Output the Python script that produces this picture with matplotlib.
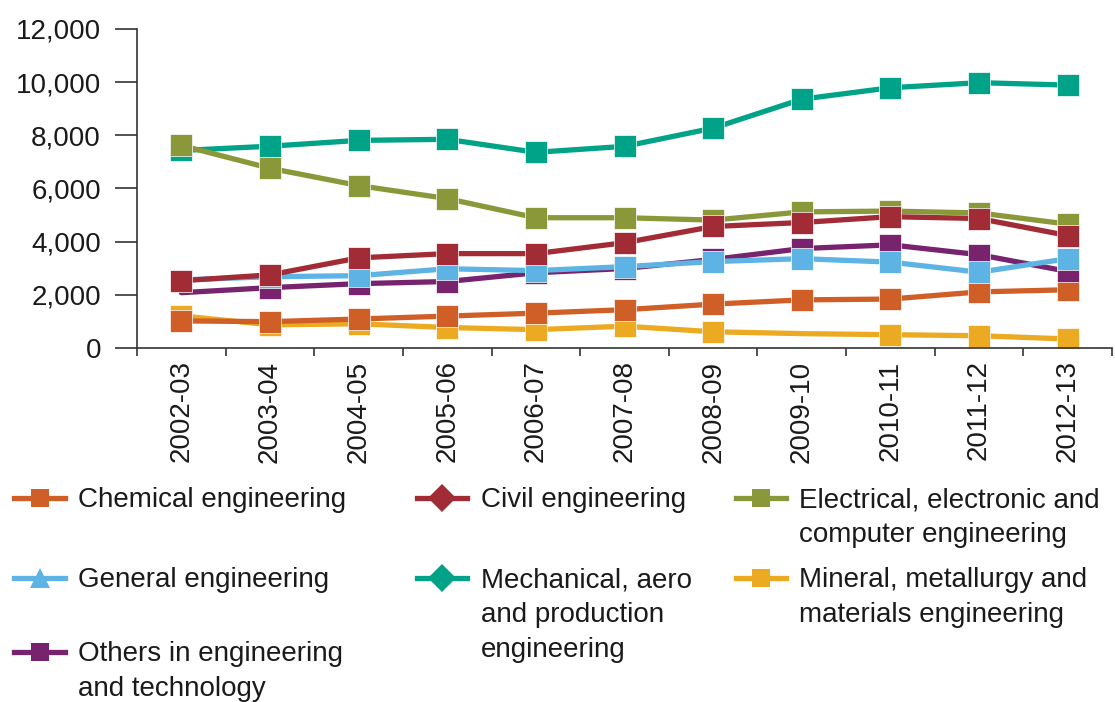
#!/usr/bin/env python3
"""Engineering students by subject area, 2002-03 to 2012-13."""

import matplotlib
matplotlib.use("Agg")
import matplotlib.pyplot as plt
import matplotlib.ticker as ticker
from matplotlib.lines import Line2D

plt.rcParams['font.family'] = ['Liberation Sans', 'DejaVu Sans']

years = ['2002-03', '2003-04', '2004-05', '2005-06', '2006-07', '2007-08',
         '2008-09', '2009-10', '2010-11', '2011-12', '2012-13']

chemical = [1020, 990, 1090, 1200, 1310, 1440, 1650, 1810, 1840, 2110, 2190]
civil = [2530, 2750, 3390, 3550, 3550, 3960, 4570, 4720, 4940, 4870, 4230]
electrical = [7620, 6760, 6110, 5620, 4900, 4900, 4810, 5120, 5150, 5080, 4660]
general = [2560, 2680, 2720, 2980, 2910, 3060, 3250, 3360, 3230, 2850, 3360]
mechanical = [7430, 7590, 7810, 7850, 7360, 7585, 8270, 9360, 9790, 9980, 9890]
mineral = [1210, 870, 910, 770, 690, 820, 610, 540, 500, 460, 340]
others = [2080, 2270, 2420, 2500, 2830, 2990, 3330, 3740, 3880, 3510, 2880]

labels = {
    'chemical': 'Chemical engineering',
    'civil': 'Civil engineering',
    'electrical': 'Electrical, electronic and\ncomputer engineering',
    'general': 'General engineering',
    'mechanical': 'Mechanical, aero\nand production\nengineering',
    'mineral': 'Mineral, metallurgy and\nmaterials engineering',
    'others': 'Others in engineering\nand technology',
}

colors = {
    'chemical': '#d05f27',
    'civil': '#a12c36',
    'electrical': '#8a983a',
    'general': '#5db4e4',
    'mechanical': '#00a388',
    'mineral': '#ebaa22',
    'others': '#78236e',
}

legend_markers = {
    'chemical': 's', 'civil': 'D', 'electrical': 's', 'general': '^',
    'mechanical': 'D', 'mineral': 's', 'others': 's',
}

series = {
    'chemical': chemical, 'civil': civil, 'electrical': electrical,
    'general': general, 'mechanical': mechanical, 'mineral': mineral,
    'others': others,
}

# points where the original has no marker
markevery = {
    'general': list(range(1, 11)),
    'others': list(range(1, 11)),
    'mineral': [0, 1, 2, 3, 4, 5, 6, 8, 9, 10],
}

draw_order = ['mineral', 'chemical', 'others', 'general', 'mechanical',
              'electrical', 'civil']

fig = plt.figure(figsize=(11.15, 7.02), dpi=100)
ax = fig.add_axes([0.1229, 0.5043, 0.8744, 0.4544])

x = list(range(len(years)))
for key in draw_order:
    ax.plot(x, series[key], color=colors[key], linewidth=3.8, marker='s',
            markersize=16, markeredgecolor='#ffffff', markeredgewidth=0.5,
            markevery=markevery.get(key), solid_joinstyle='round',
            solid_capstyle='round')

ax.set_xlim(-0.5, len(years) - 0.5)
ax.set_ylim(0, 12000)
ax.set_yticks(range(0, 12001, 2000))
ax.yaxis.set_major_formatter(ticker.FuncFormatter(lambda v, p: f'{int(v):,}'))
ax.set_xticks(x)
ax.set_xticklabels(years, rotation=90)
ax.set_xticks([i - 0.5 for i in range(len(years) + 1)], minor=True)

for side in ('top', 'right'):
    ax.spines[side].set_visible(False)
for side in ('left', 'bottom'):
    ax.spines[side].set_color('#333333')
    ax.spines[side].set_linewidth(1.2)

ax.tick_params(axis='y', length=16, width=1.2, color='#333333', pad=10,
               labelsize=20, labelcolor='#1a1a1a')
ax.tick_params(axis='x', which='major', length=0, pad=9, labelsize=20,
               labelcolor='#1a1a1a')
ax.tick_params(axis='x', which='minor', length=6, width=1.2, color='#333333')

# legend laid out as a 3-column grid with rows aligned across columns
col_x = [0.013, 0.374, 0.660]
row_y = [1 - 498 / 702, 1 - 578 / 702, 1 - 652 / 702]
grid = [['chemical', 'civil', 'electrical'],
        ['general', 'mechanical', 'mineral'],
        ['others', None, None]]
handle_w = 0.045
for r, row in enumerate(grid):
    for c, key in enumerate(row):
        if key is None:
            continue
        x0 = col_x[c]
        y0 = row_y[r]
        mk = legend_markers[key]
        ms = {'s': 13, 'D': 14, '^': 14}[mk]
        fig.add_artist(Line2D([x0, x0 + handle_w / 2, x0 + handle_w], [y0, y0, y0],
                              transform=fig.transFigure, color=colors[key],
                              linewidth=3.8, marker=mk, markersize=ms,
                              markevery=[1], markeredgewidth=0))
        fig.text(x0 + handle_w + 0.012, y0 + 0.0155, labels[key], fontsize=20,
                 color='#1a1a1a', va='top', ha='left', linespacing=1.45)

plt.savefig('out.png', dpi=100)
